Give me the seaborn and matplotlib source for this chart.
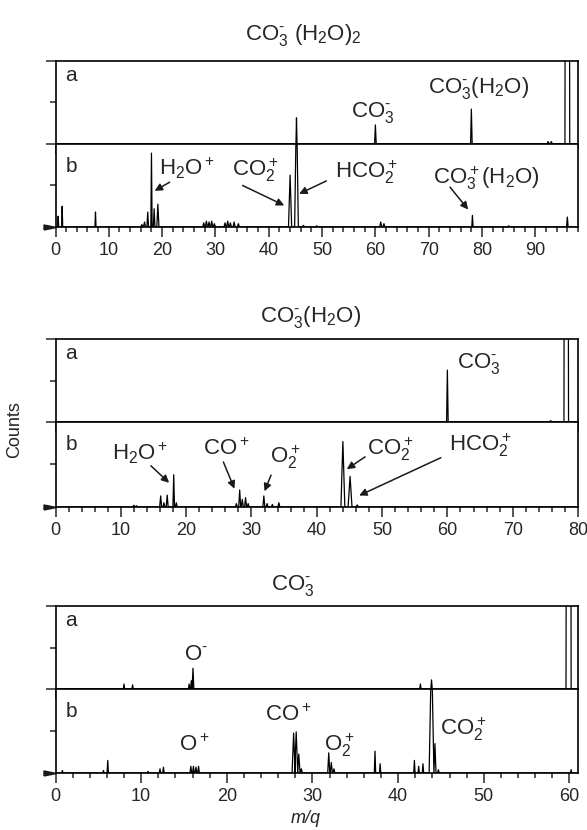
import numpy as np
import pandas as pd
import matplotlib
matplotlib.use('Agg')
import matplotlib.pyplot as plt
import seaborn as sns
from matplotlib.ticker import MultipleLocator, FixedLocator

sns.set_theme(style='ticks')
plt.rcParams['font.family'] = ['Liberation Sans', 'DejaVu Sans']
plt.rcParams['mathtext.fontset'] = 'custom'
plt.rcParams['mathtext.rm'] = 'Liberation Sans'
plt.rcParams['mathtext.it'] = 'Liberation Sans:italic'
plt.rcParams['mathtext.bf'] = 'Liberation Sans:bold'

# 峰位 (m/q)、峰高、半宽
# CO3-(H2O)2
p1a_mz = [45.2, 60.0, 78.0, 92.4, 93.0, 96.0]
p1a_h = [0.63, 0.46, 0.84, 0.06, 0.06, 40]
p1a_w = [0.1, 0.15, 0.15, 0.2, 0.2, 0.45]

p1b_mz = [0.5, 1.25, 7.5, 16.2, 16.7, 17.3, 18.0, 18.5, 19.2, 27.8, 28.3, 28.8, 29.3, 29.8,
          31.8, 32.3, 32.8, 33.5, 34.3, 44.0, 45.2, 46.5, 49.0, 61.0, 61.6, 78.2, 85.0, 96.0]
p1b_h = [0.26, 0.5, 0.36, 0.06, 0.12, 0.36, 1.78, 0.44, 0.55, 0.1, 0.14, 0.12, 0.14, 0.08,
         0.1, 0.14, 0.1, 0.12, 0.08, 1.25, 3.0, 0.04, 0.03, 0.12, 0.08, 0.28, 0.03, 0.24]
p1b_w = [0.1, 0.1, 0.1, 0.2, 0.2, 0.15, 0.12, 0.15, 0.2, 0.2, 0.2, 0.2, 0.2, 0.2,
         0.2, 0.2, 0.2, 0.2, 0.2, 0.3, 0.35, 0.2, 0.2, 0.2, 0.2, 0.12, 0.2, 0.15]

# CO3-(H2O)
p2a_mz = [60.0, 75.8, 78.2]
p2a_h = [1.25, 0.03, 40]
p2a_w = [0.12, 0.3, 0.35]

p2b_mz = [12.0, 12.4, 16.1, 16.6, 17.1, 18.1, 18.5, 27.7, 28.2, 28.6, 29.1, 29.5,
          31.9, 32.4, 33.2, 34.2, 44.0, 45.1, 46.2]
p2b_h = [0.04, 0.03, 0.26, 0.1, 0.28, 0.76, 0.1, 0.08, 0.4, 0.18, 0.22, 0.08,
         0.26, 0.08, 0.06, 0.1, 1.54, 0.72, 0.05]
p2b_w = [0.2, 0.2, 0.15, 0.15, 0.15, 0.12, 0.15, 0.15, 0.15, 0.15, 0.15, 0.15,
         0.15, 0.15, 0.15, 0.15, 0.3, 0.3, 0.2]

# CO3-
p3a_mz = [8.0, 9.0, 15.6, 15.85, 16.05, 42.6, 43.9, 59.9]
p3a_h = [0.12, 0.1, 0.12, 0.2, 0.5, 0.12, 0.22, 40]
p3a_w = [0.08, 0.08, 0.08, 0.08, 0.1, 0.08, 0.08, 0.3]

p3b_mz = [0.8, 5.6, 6.1, 10.8, 12.2, 12.6, 15.8, 16.1, 16.4, 16.7, 27.8, 28.1, 28.4, 28.7,
          31.9, 32.2, 32.5, 37.3, 37.9, 41.9, 42.4, 42.9, 43.9, 44.3, 44.7, 60.2]
p3b_h = [0.06, 0.06, 0.3, 0.04, 0.1, 0.14, 0.16, 0.16, 0.14, 0.16, 0.95, 0.98, 0.45, 0.1,
         0.48, 0.25, 0.1, 0.52, 0.22, 0.3, 0.16, 0.22, 3.0, 0.7, 0.08, 0.08]
p3b_w = [0.08, 0.08, 0.08, 0.08, 0.08, 0.08, 0.1, 0.1, 0.1, 0.1, 0.18, 0.18, 0.15, 0.12,
         0.12, 0.12, 0.12, 0.08, 0.08, 0.08, 0.08, 0.08, 0.28, 0.12, 0.1, 0.08]

x_max = [98, 80, 61]


def spectrum(mz, h, w, xmax):
    xs, ys = [0.0], [0.0]
    for c, hh, ww in zip(mz, h, w):
        xs += [c - ww, c, c + ww]
        ys += [0.0, hh, 0.0]
    xs.append(xmax)
    ys.append(0.0)
    return pd.DataFrame({'mz': xs, 'counts': ys})


W, H = 587, 830
fig = plt.figure(figsize=(W / 100, H / 100), dpi=100)
left, right = 55.5, 578


def add_ax(top, bottom):
    return fig.add_axes([left / W, 1 - bottom / H, (right - left) / W, (bottom - top) / H])


tri = [(-1, -0.2), (0, 0), (-1, 0.2), (-1, -0.2)]
lab_fs = 16
NEG = '\u2010'  # 小横线, 原图的负号很短


def style(ax, xmax, upper):
    ax.set_xlim(0, xmax)
    ax.set_ylim(0, 2)
    for s in ax.spines.values():
        s.set_linewidth(1.2)
        s.set_color('black')
    ax.xaxis.set_major_locator(MultipleLocator(10))
    ax.xaxis.set_minor_locator(MultipleLocator(2))
    ax.tick_params(axis='x', which='major', direction='out', length=7, width=1.1,
                   labelsize=13, pad=4, bottom=True, top=False)
    ax.tick_params(axis='x', which='minor', direction='out', length=3.6, width=1.1,
                   bottom=True, top=False)
    ax.tick_params(axis='y', which='major', direction='out', length=7, width=1.1,
                   left=True, labelleft=False)
    ax.tick_params(axis='y', which='minor', direction='out', length=4.3, width=1.1,
                   left=True)
    ax.yaxis.set_minor_locator(FixedLocator([1]))
    if upper:
        ax.yaxis.set_major_locator(FixedLocator([0, 2]))
        ax.tick_params(axis='x', labelbottom=False)
        ax.text(0.03, 0.83, 'a', transform=ax.transAxes, fontsize=15, ha='center', va='center')
    else:
        ax.yaxis.set_major_locator(FixedLocator([]))
        ax.text(0.03, 0.73, 'b', transform=ax.transAxes, fontsize=15, ha='center', va='center')
        ax.plot([0], [0], marker=tri, ms=18, color='k', clip_on=False, lw=0,
                transform=ax.get_yaxis_transform())
    ax.set_xlabel('')
    ax.set_ylabel('')
    ax.set_facecolor('white')


def arrow(ax, tail, head):
    ax.annotate('', xy=head, xytext=tail,
                arrowprops=dict(arrowstyle='-|>', color='k', lw=1.1, mutation_scale=11,
                                shrinkA=0, shrinkB=0))


def label(ax, x, y, s):
    ax.text(x, y, s, fontsize=lab_fs, ha='center', va='center')


panels = [
    (61, 144, 227, p1a_mz, p1a_h, p1a_w, p1b_mz, p1b_h, p1b_w, x_max[0]),
    (339, 422, 507, p2a_mz, p2a_h, p2a_w, p2b_mz, p2b_h, p2b_w, x_max[1]),
    (606, 689, 773, p3a_mz, p3a_h, p3a_w, p3b_mz, p3b_h, p3b_w, x_max[2]),
]
axes = []
for top, mid, bot, amz, ah, aw, bmz, bh, bw, xm in panels:
    ax_a = add_ax(top, mid)
    ax_b = add_ax(mid, bot)
    sns.lineplot(data=spectrum(amz, ah, aw, xm), x='mz', y='counts', sort=False,
                 estimator=None, color='black', lw=0.9, ax=ax_a)
    sns.lineplot(data=spectrum(bmz, bh, bw, xm), x='mz', y='counts', sort=False,
                 estimator=None, color='black', lw=0.9, ax=ax_b)
    style(ax_a, xm, True)
    style(ax_b, xm, False)
    axes.append((ax_a, ax_b))

co3m = r'CO$_3^{' + NEG + '}$'

# 1: CO3-(H2O)2
a, b = axes[0]
label(a, 59.5, 0.77, co3m)
label(a, 79.3, 1.35, co3m + r'(H$_2$O)')
label(b, 24.6, 1.41, r'H$_2$O$^+$')
label(b, 37.5, 1.36, r'CO$_2^+$')
label(b, 58.2, 1.31, r'HCO$_2^+$')
label(b, 80.8, 1.17, r'CO$_3^+$(H$_2$O)')
arrow(b, (21.4, 1.08), (18.6, 0.87))
arrow(b, (35.1, 1.0), (42.9, 0.52))
arrow(b, (50.8, 1.11), (45.7, 0.8))
arrow(b, (74.0, 0.96), (77.4, 0.42))

# 2: CO3-(H2O)
a, b = axes[1]
label(a, 64.8, 1.4, co3m)
label(b, 13.0, 1.25, r'H$_2$O$^+$')
label(b, 26.2, 1.35, r'CO$^+$')
label(b, 35.1, 1.18, r'O$_2^+$')
label(b, 51.3, 1.35, r'CO$_2^+$')
label(b, 65.0, 1.45, r'HCO$_2^+$')
arrow(b, (14.6, 0.97), (17.4, 0.57))
arrow(b, (25.7, 1.06), (27.4, 0.43))
arrow(b, (33.0, 0.75), (32.0, 0.37))
arrow(b, (47.4, 1.18), (44.6, 0.89))
arrow(b, (59.0, 1.16), (46.5, 0.27))

# 3: CO3-
a, b = axes[2]
label(a, 16.4, 0.84, r'O$^{' + NEG + '}$')
label(b, 16.2, 0.67, r'O$^+$')
label(b, 27.2, 1.37, r'CO$^+$')
label(b, 33.1, 0.67, r'O$_2^+$')
label(b, 47.6, 1.05, r'CO$_2^+$')

# 标题与轴标签
fig.text(303 / W, 1 - 35 / H, co3m + r' (H$_2$O)$_2$', fontsize=lab_fs, ha='center', va='center')
fig.text(311 / W, 1 - 317 / H, co3m + r'(H$_2$O)', fontsize=lab_fs, ha='center', va='center')
fig.text(293 / W, 1 - 585 / H, co3m, fontsize=lab_fs, ha='center', va='center')
fig.text(15 / W, 1 - 430 / H, 'Counts', fontsize=13, rotation=90, ha='center', va='center')
fig.text(306 / W, 1 - 818 / H, 'm/q', fontsize=13, style='italic', ha='center', va='center')

fig.savefig('out.png', dpi=100, facecolor='white')
